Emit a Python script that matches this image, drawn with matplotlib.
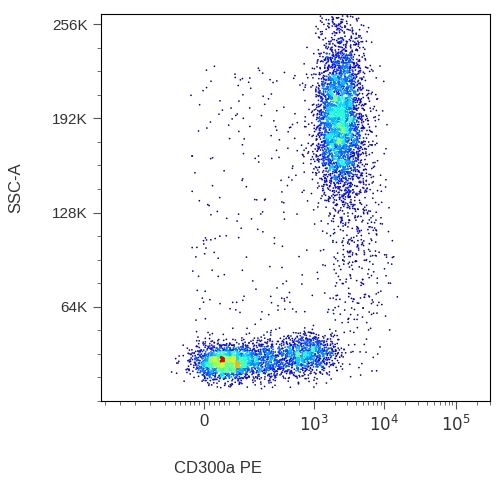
import numpy as np
import matplotlib.pyplot as plt

plt.rcParams['font.family'] = ['Liberation Sans', 'DejaVu Sans']

# x in display units of the biexponential scale (0 at 205, 1e3 at 315, 1e4 at 385, 1e5 at 457)
x_tick_pos = [205, 315, 385, 457]
x_tick_labels = ['0', '$10^3$', '$10^4$', '$10^5$']
y_ticks = [64, 128, 192, 256]
y_tick_labels = ['64K', '128K', '192K', '256K']

# populations: center x, center y (K), sd x, sd y (K), count
pop_cx = [222, 262, 310, 342, 338, 350, 358]
pop_cy = [26, 28, 32, 205, 180, 150, 95]
pop_sx = [15, 20, 14, 12, 12, 15, 16]
pop_sy = [6, 7, 7, 28, 20, 20, 30]
pop_n = [1300, 900, 800, 2100, 1100, 350, 220]
background_n = 380

rng = np.random.default_rng(3)
xs, ys = [], []
for cx, cy, sx, sy, n in zip(pop_cx, pop_cy, pop_sx, pop_sy, pop_n):
    xs.append(rng.normal(cx, sx, n))
    ys.append(rng.normal(cy, sy, n))
xs.append(rng.uniform(190, 390, background_n))
ys.append(rng.uniform(15, 230, background_n))
x = np.concatenate(xs)
y = np.concatenate(ys)
keep = (y > 8) & (y < 262) & (x > 150) & (x < 400)
x, y = x[keep], y[keep]

# density colouring
H, xe, ye = np.histogram2d(x, y, bins=[60, 70])
ix = np.clip(np.digitize(x, xe) - 1, 0, H.shape[0] - 1)
iy = np.clip(np.digitize(y, ye) - 1, 0, H.shape[1] - 1)
d = H[ix, iy]
order = np.argsort(d)

fig = plt.figure(figsize=(5.04, 4.8), dpi=100)
ax = fig.add_axes([0.2, 0.165, 0.772, 0.806])
ax.scatter(x[order], y[order], c=d[order], cmap='jet', s=1.5, linewidths=0,
           vmin=0, vmax=d.max() * 1.1)
ax.set_xlim(101, 490)
ax.set_ylim(0, 263)
ax.set_xticks(x_tick_pos)
ax.set_xticklabels(x_tick_labels, fontsize=12, color='#333333')
ax.set_yticks(y_ticks)
ax.set_yticklabels(y_tick_labels, fontsize=11, color='#333333')
ax.set_yticks(np.arange(0, 263, 16), minor=True)
minor = [105, 120, 135, 150, 165]
minor += [175, 180, 185, 190, 195, 200, 210, 215, 220, 225, 230, 240, 255, 270, 285, 300]
for a, b in [(315, 385), (385, 457)]:
    minor += [a + (b - a) * np.log10(k) for k in range(2, 10)]
minor += [457 + 72 * np.log10(k) for k in range(2, 4)]
ax.set_xticks(minor, minor=True)
ax.tick_params(axis='both', direction='out', length=6, color='#555555')
ax.tick_params(axis='both', which='minor', length=3, color='#555555')
ax.set_xlabel('CD300a PE', fontsize=12, color='#333333')
ax.set_ylabel('SSC-A', fontsize=12, color='#333333')
ax.xaxis.set_label_coords(0.3, -0.155)
ax.yaxis.set_label_coords(-0.2, 0.55)
plt.savefig('out.png', dpi=100)
